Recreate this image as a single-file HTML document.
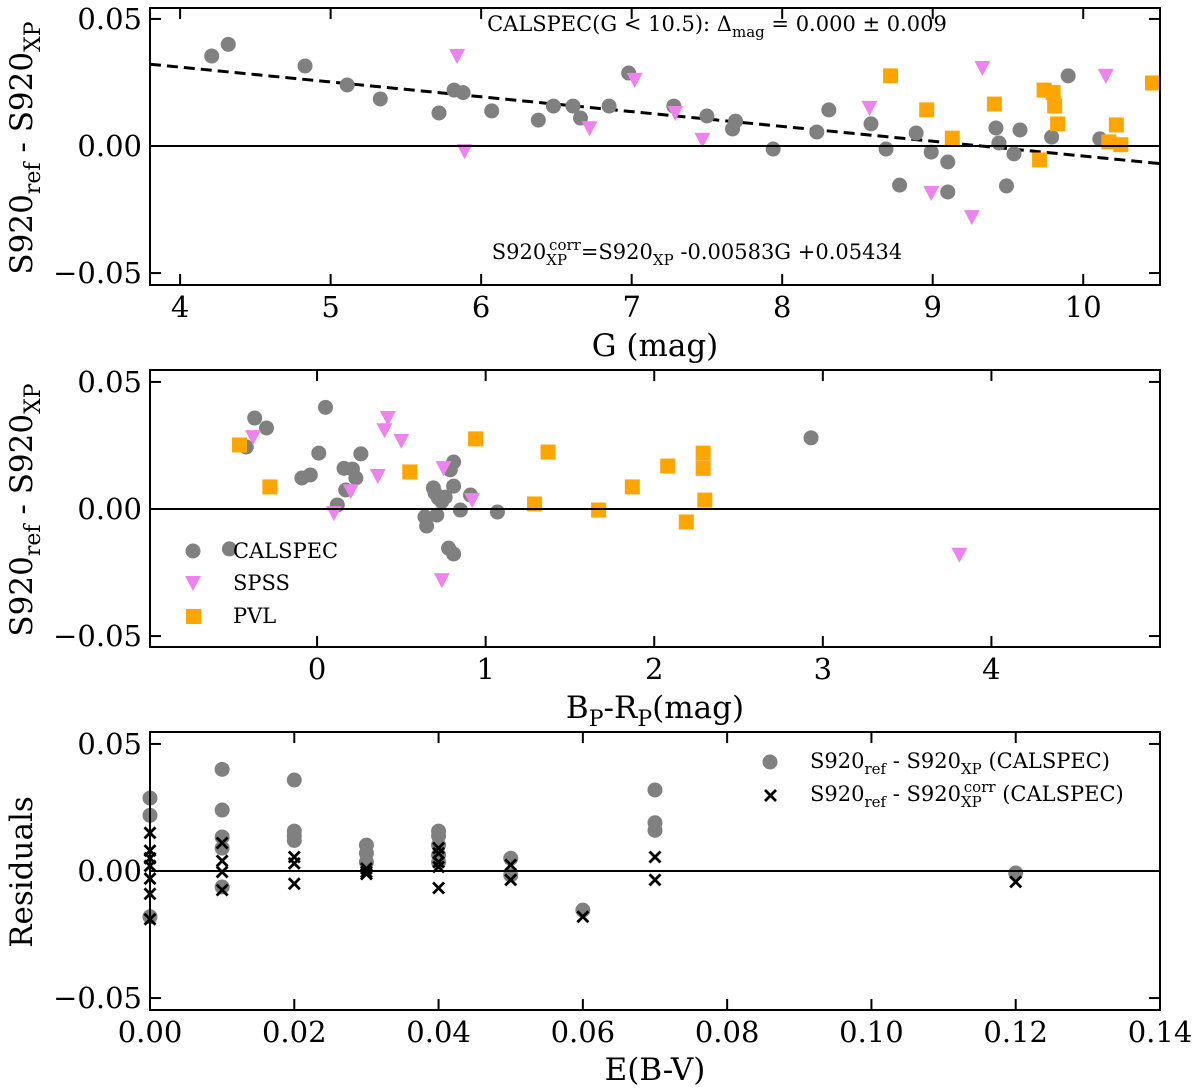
<!DOCTYPE html>
<html><head><meta charset="utf-8">
<style>
html,body{margin:0;padding:0;background:#fff;}
svg{display:block;font-family:"DejaVu Serif","Liberation Serif",serif;}
</style></head>
<body>
<svg id="fig" width="1200" height="1091" viewBox="0 0 1200 1091" xmlns="http://www.w3.org/2000/svg"></svg>
<script>
// ---- Panel 1 data (G mag vs S920ref - S920XP)
const p1CalG = [4.21,4.32,4.83,5.11,5.33,5.72,5.82,5.88,6.07,6.38,6.48,6.61,6.66,6.85,6.98,7.28,7.5,7.69,7.67,7.94,8.23,8.31,8.59,8.69,8.78,8.89,8.99,9.10,9.10,9.42,9.44,9.49,9.54,9.58,9.79,9.9,10.11];
const p1CalD = [0.0354,0.040,0.0315,0.024,0.0185,0.013,0.022,0.021,0.0138,0.0102,0.0157,0.0157,0.011,0.0157,0.0287,0.0157,0.0118,0.0098,0.0067,-0.0012,0.0055,0.0142,0.0087,-0.0012,-0.0154,0.0051,-0.0024,-0.0063,-0.0181,0.0071,0.0012,-0.0157,-0.0031,0.0063,0.0035,0.0276,0.0028];
const p1SpsG = [5.84,5.89,7.02,6.72,7.29,7.47,8.58,8.99,9.33,9.26,10.15];
const p1SpsD = [0.0354,-0.002,0.026,0.007,0.013,0.0024,0.015,-0.0185,0.0307,-0.028,0.0276];
const p1PvlG = [8.72,8.96,9.13,9.41,9.71,9.74,9.8,9.81,9.83,10.17,10.25,10.22,10.46];
const p1PvlD = [0.0276,0.0142,0.0031,0.0165,-0.0055,0.022,0.021,0.0157,0.0087,0.0016,0.0005,0.0083,0.0248];
const fitSlope = -0.00583, fitIntercept = 0.05434;
// ---- Panel 2 data (BP-RP)
const p2CalC = [-0.42,-0.37,-0.30,-0.52,-0.09,-0.04,0.01,0.05,0.12,0.16,0.17,0.21,0.23,0.26,0.64,0.65,0.69,0.70,0.71,0.72,0.74,0.76,0.79,0.81,0.81,0.78,0.81,0.85,0.91,1.07,2.93];
const p2CalD = [0.0244,0.0358,0.0319,-0.0157,0.0122,0.0134,0.022,0.040,0.0016,0.016,0.0075,0.0157,0.0122,0.0217,-0.0031,-0.0067,0.0083,0.0063,-0.0024,0.0043,0.003,0.0047,0.0154,0.009,0.0185,-0.0154,-0.0177,-0.0004,0.0055,-0.0012,0.028];
const p2SpsC = [-0.38,0.2,0.1,0.4,0.42,0.5,0.36,0.75,0.74,0.92,3.81];
const p2SpsD = [0.0283,0.007,-0.0016,0.031,0.0358,0.0268,0.013,0.0161,-0.028,0.0035,-0.018];
const p2PvlC = [-0.46,-0.28,0.55,0.94,1.29,1.37,1.67,1.87,2.08,2.19,2.29,2.29,2.30];
const p2PvlD = [0.0252,0.0087,0.0146,0.0276,0.002,0.0224,-0.0004,0.0087,0.0169,-0.0051,0.022,0.016,0.0035];
// ---- Panel 3 data (E(B-V))
const p3CirE = [0,0,0,0.01,0.01,0.01,0.01,0.01,0.02,0.02,0.02,0.02,0.03,0.03,0.03,0.04,0.04,0.04,0.04,0.04,0.05,0.05,0.06,0.07,0.07,0.07,0.12];
const p3CirR = [0.0287,0.0219,-0.018,0.040,0.024,0.0134,0.009,-0.0063,0.0358,0.0157,0.0138,0.012,0.0102,0.007,0.0035,0.0157,0.0138,0.0102,0.0063,0.0035,0.005,-0.0016,-0.0154,0.0319,0.019,0.016,-0.0008];
const p3CrsE = [0,0,0,0,0,0,0,0.01,0.01,0.01,0.01,0.02,0.02,0.02,0.03,0.03,0.03,0.04,0.04,0.04,0.04,0.04,0.05,0.05,0.06,0.07,0.07,0.12];
const p3CrsR = [0.015,0.008,0.005,0.002,-0.003,-0.009,-0.019,0.011,0.004,-0.0004,-0.0075,0.0055,0.003,-0.005,0.001,-0.0004,-0.0012,0.009,0.007,0.0035,0.0016,-0.0067,0.0024,-0.0035,-0.018,0.0055,-0.0035,-0.0043];
const yTicks = [-0.05,0,0.05];
const yTickLabels = ["\u22120.05","0.00","0.05"];
const x1Ticks = [4,5,6,7,8,9,10];
const x2Ticks = [0,1,2,3,4];
const x3Ticks = [0,0.02,0.04,0.06,0.08,0.10,0.12,0.14];
const x3TickLabels = ["0.00","0.02","0.04","0.06","0.08","0.10","0.12","0.14"];

const NS="http://www.w3.org/2000/svg";
const svg=document.getElementById('fig');
function mk(tag,attrs,parent){const e=document.createElementNS(NS,tag);for(const k in attrs)e.setAttribute(k,attrs[k]);(parent||svg).appendChild(e);return e;}

function panel(name,L,R,T,B,xmin,xmax,ymin,ymax){
  const g=mk('g',{});
  
  
  const sx=v=>L+(v-xmin)/(xmax-xmin)*(R-L);
  const sy=v=>B-(v-ymin)/(ymax-ymin)*(B-T);
  return {g,sx,sy,L,R,T,B};
}
function frame(p,xt,xl,nm){
  const ax=mk('g',{},p.g);
  
  
  mk('rect',{x:p.L,y:p.T,width:p.R-p.L,height:p.B-p.T,fill:'none',stroke:'#000','stroke-width':2},ax);
  mk('line',{x1:p.L,x2:p.R,y1:p.sy(0),y2:p.sy(0),stroke:'#000','stroke-width':2},ax);
  yTicks.forEach((v,i)=>{const y=p.sy(v);
    mk('line',{x1:p.L,x2:p.L+11,y1:y,y2:y,stroke:'#000','stroke-width':2},ax);
    mk('line',{x1:p.R,x2:p.R-11,y1:y,y2:y,stroke:'#000','stroke-width':2},ax);
    const t=mk('text',{x:p.L-8,y:y+10,'text-anchor':'end','font-size':29},ax);t.textContent=yTickLabels[i];
    });
  xt.forEach((v,i)=>{const x=p.sx(v);
    mk('line',{x1:x,x2:x,y1:p.B,y2:p.B-11,stroke:'#000','stroke-width':2},ax);
    mk('line',{x1:x,x2:x,y1:p.T,y2:p.T+11,stroke:'#000','stroke-width':2},ax);
    const t=mk('text',{x:x,y:p.B+32,'text-anchor':'middle','font-size':29},ax);t.textContent=xl?xl[i]:String(v);
    });
}
function circles(p,xs,ys,nm){xs.forEach((x,i)=>{const c=mk('circle',{cx:p.sx(x),cy:p.sy(ys[i]),r:7.5,fill:'#808080'},p.g);
  });}
function tris(p,xs,ys,nm){xs.forEach((x,i)=>{const cx=p.sx(x),cy=p.sy(ys[i]);
  const c=mk('polygon',{points:`${cx-8},${cy-7} ${cx+8},${cy-7} ${cx},${cy+8}`,fill:'#ee82ee'},p.g);
  });}
function squares(p,xs,ys,nm){xs.forEach((x,i)=>{const c=mk('rect',{x:p.sx(x)-7.5,y:p.sy(ys[i])-7.5,width:15,height:15,fill:'#ffa500'},p.g);
  });}
function crosses(p,xs,ys,nm){xs.forEach((x,i)=>{const cx=p.sx(x),cy=p.sy(ys[i]);
  const c=mk('path',{d:`M${cx-5.5},${cy-5.5}L${cx+5.5},${cy+5.5}M${cx-5.5},${cy+5.5}L${cx+5.5},${cy-5.5}`,stroke:'#000','stroke-width':2.8,fill:'none'},p.g);
  });}
function label(x,y,html,size,rot,nm){const t=mk('text',{x:x,y:y,'text-anchor':'middle','font-size':size});
  if(rot)t.setAttribute('transform',`rotate(-90 ${x} ${y})`);t.innerHTML=html;
  return t;}
const S920R='S920<tspan font-size="22" dy="8">ref</tspan><tspan dy="-8"> - S920</tspan><tspan font-size="22" dy="8">XP</tspan>';

// Panel 1
const p1=panel('g-panel',150,1160,8,285,3.80,10.51,-0.0547,0.0543);
// dashed fit
const fx0=3.80,fx1=10.51;
const fl=mk('line',{x1:p1.sx(fx0),y1:p1.sy(fitSlope*fx0+fitIntercept),x2:p1.sx(fx1),y2:p1.sy(fitSlope*fx1+fitIntercept),stroke:'#000','stroke-width':3,'stroke-dasharray':'11,6'},p1.g);

circles(p1,p1CalG,p1CalD,'calspec-point');
tris(p1,p1SpsG,p1SpsD,'spss-point');
squares(p1,p1PvlG,p1PvlD,'pvl-point');
frame(p1,x1Ticks,null,'g-panel');
label(717,31,'CALSPEC(G &lt; 10.5): Δ<tspan font-size="15" dy="6">mag</tspan><tspan dy="-6"> = 0.000 ± 0.009</tspan>',21,false,'stats-annotation');
label(697,259,'S920<tspan font-size="15" dy="6">XP</tspan><tspan font-size="15" dx="-18" dy="-15">corr</tspan><tspan dy="9">=S920</tspan><tspan font-size="15" dy="6">XP</tspan><tspan dy="-6"> -0.00583G +0.05434</tspan>',21,false,'fit-equation');
label(32,148,S920R,31,true,'y-axis-title-1');
label(655,356,'G (mag)',31,false,'x-axis-title-1');

// Panel 2
const p2=panel('color-panel',150,1160,370,647,-0.991,5.0,-0.0543,0.0547);
circles(p2,p2CalC,p2CalD,'calspec-point');
tris(p2,p2SpsC,p2SpsD,'spss-point');
squares(p2,p2PvlC,p2PvlD,'pvl-point');
frame(p2,x2Ticks,null,'color-panel');
label(32,510,S920R,31,true,'y-axis-title-2');
label(655,718,'B<tspan font-size="22" dy="8">P</tspan><tspan dy="-8">-R</tspan><tspan font-size="22" dy="8">P</tspan><tspan dy="-8">(mag)</tspan>',31,false,'x-axis-title-2');
// legend 2
const lg=mk('g',{});
mk('circle',{cx:193,cy:551,r:7.5,fill:'#808080'},lg);
mk('polygon',{points:'185,576 201,576 193,591',fill:'#ee82ee'},lg);
mk('rect',{x:186,y:609,width:15,height:15,fill:'#ffa500'},lg);
[['CALSPEC',558],['SPSS',590],['PVL',623]].forEach(a=>{const t=mk('text',{x:233,y:a[1],'font-size':21},lg);t.textContent=a[0];
  });

// Panel 3
const p3=panel('ebv-panel',150,1160,732,1010,0,0.14,-0.0547,0.0547);
circles(p3,p3CirE,p3CirR,'raw-residual-point');
crosses(p3,p3CrsE,p3CrsR,'corrected-residual-point');
frame(p3,x3Ticks,x3TickLabels,'ebv-panel');
label(32,872,'Residuals',31,true,'y-axis-title-3');
label(655,1080,'E(B-V)',31,false,'x-axis-title-3');
const lg3=mk('g',{});
mk('circle',{cx:770,cy:762,r:7.5,fill:'#808080'},lg3);
mk('path',{d:'M765,790L776,801M765,801L776,790',stroke:'#000','stroke-width':2.8},lg3);
const t1=mk('text',{x:810,y:768,'font-size':21},lg3);
t1.innerHTML='S920<tspan font-size="15" dy="6">ref</tspan><tspan dy="-6"> - S920</tspan><tspan font-size="15" dy="6">XP</tspan><tspan dy="-6"> (CALSPEC)</tspan>';

const t2=mk('text',{x:810,y:801,'font-size':21},lg3);
t2.innerHTML='S920<tspan font-size="15" dy="6">ref</tspan><tspan dy="-6"> - S920</tspan><tspan font-size="15" dy="6">XP</tspan><tspan font-size="15" dx="-18" dy="-15">corr</tspan><tspan dy="9"> (CALSPEC)</tspan>';

</script>
</body></html>
